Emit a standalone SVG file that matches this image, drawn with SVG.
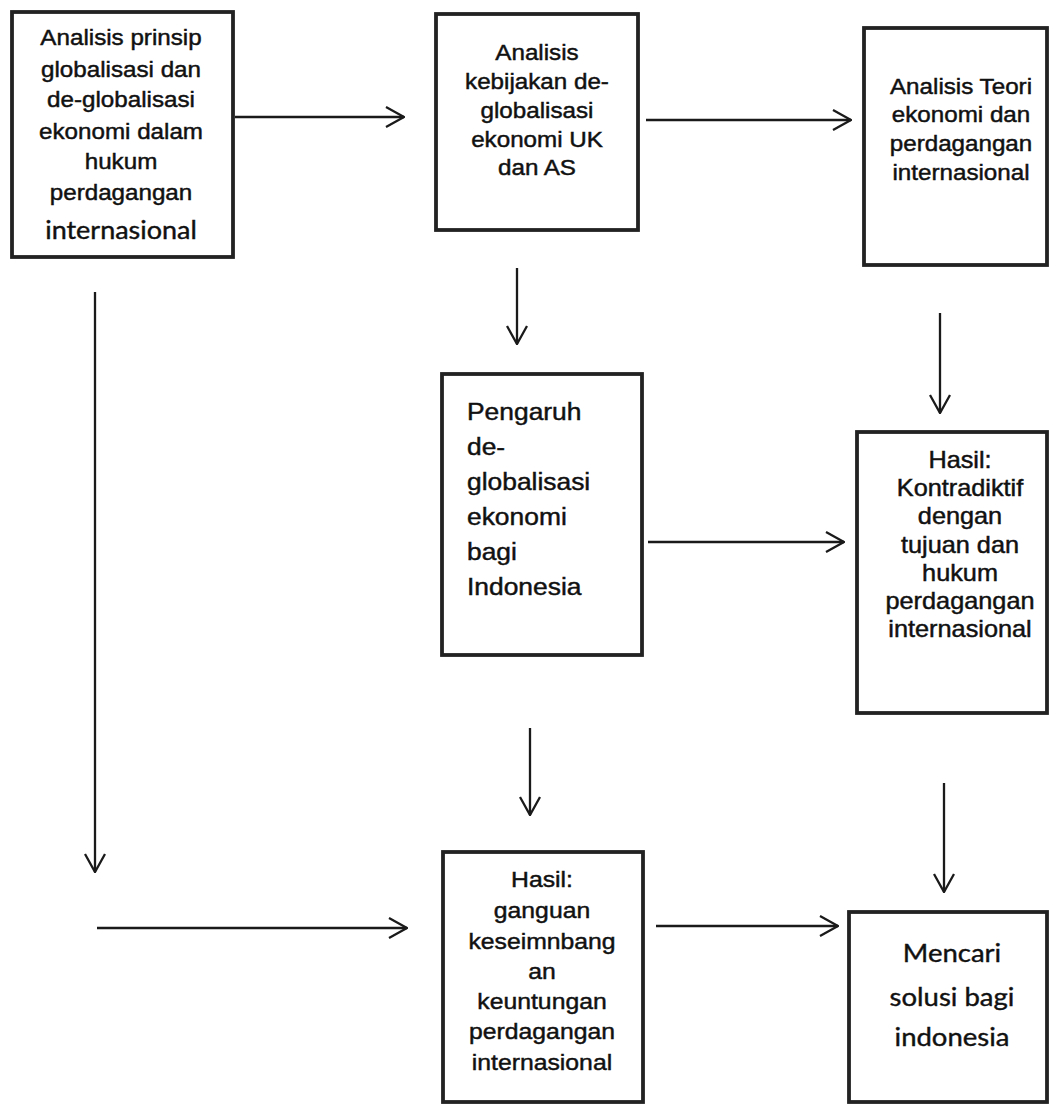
<svg xmlns="http://www.w3.org/2000/svg" width="1049" height="1104" viewBox="0 0 1049 1104">
<style>
.box{fill:#fff;stroke:#222;stroke-width:3.8}
.t{font-family:"Liberation Sans",Arial,sans-serif;fill:#111;stroke:#111;stroke-width:0.45;text-anchor:middle}
.c{font-family:Lato,"Open Sans",sans-serif;fill:#111;stroke:#111;stroke-width:0.4;text-anchor:middle}
.l{text-anchor:start}
.cn path{fill:none;stroke:#1a1a1a;stroke-width:2.3}
</style>
<defs>
<marker id="ah" viewBox="0 0 20 22" refX="19" refY="11" markerWidth="20" markerHeight="22" markerUnits="userSpaceOnUse" orient="auto">
<path d="M1,1 L19,11 L1,21" fill="none" stroke="#1a1a1a" stroke-width="2.3"/>
</marker>
</defs>
<rect width="1049" height="1104" fill="#fff"/>
<g id="connectors" class="cn">
<path d="M235,117 H404" marker-end="url(#ah)"/>
<path d="M646,120 H851" marker-end="url(#ah)"/>
<path d="M517,268 V344" marker-end="url(#ah)"/>
<path d="M940,313 V413" marker-end="url(#ah)"/>
<path d="M648,542 H844" marker-end="url(#ah)"/>
<path d="M530,728 V815" marker-end="url(#ah)"/>
<path d="M944,783 V892" marker-end="url(#ah)"/>
<path d="M95,292 V872" marker-end="url(#ah)"/>
<path d="M97,928 H407" marker-end="url(#ah)"/>
<path d="M656,926 H838" marker-end="url(#ah)"/>
</g>
<g id="n1">
<rect class="box" x="12" y="12" width="221" height="245"/>
<g transform="translate(121,0) scale(1.1,1)">
<text class="t" font-size="22"><tspan x="0" y="45">Analisis prinsip</tspan><tspan x="0" y="77">globalisasi  dan</tspan><tspan x="0" y="107">de-globalisasi</tspan><tspan x="0" y="139">ekonomi dalam</tspan><tspan x="0" y="169">hukum</tspan><tspan x="0" y="200">perdagangan</tspan></text>
<text class="c" font-size="24.5" x="0" y="239">internasional</text>
</g>
</g>
<g id="n2">
<rect class="box" x="436" y="14" width="202" height="216"/>
<g transform="translate(537,0) scale(1.1,1)">
<text class="t" font-size="22"><tspan x="0" y="60">Analisis</tspan><tspan x="0" y="89">kebijakan de-</tspan><tspan x="0" y="118">globalisasi</tspan><tspan x="0" y="147">ekonomi UK</tspan><tspan x="0" y="175">dan AS</tspan></text>
</g>
</g>
<g id="n3">
<rect class="box" x="864" y="28" width="183" height="237"/>
<g transform="translate(961,0) scale(1.1,1)">
<text class="t" font-size="22"><tspan x="0" y="94">Analisis Teori</tspan><tspan x="0" y="122">ekonomi dan</tspan><tspan x="0" y="151">perdagangan</tspan><tspan x="0" y="180">internasional</tspan></text>
</g>
</g>
<g id="n4">
<rect class="box" x="442" y="374" width="200" height="281"/>
<g transform="translate(467,0) scale(1.1,1)">
<text class="t l" font-size="24"><tspan x="0" y="420">Pengaruh</tspan><tspan x="0" y="455">de-</tspan><tspan x="0" y="490">globalisasi</tspan><tspan x="0" y="525">ekonomi</tspan><tspan x="0" y="560">bagi</tspan><tspan x="0" y="595">Indonesia</tspan></text>
</g>
</g>
<g id="n5">
<rect class="box" x="857" y="432" width="190" height="281"/>
<g transform="translate(960,0) scale(1.1,1)">
<text class="t" font-size="23"><tspan x="0" y="468">Hasil:</tspan><tspan x="0" y="496">Kontradiktif</tspan><tspan x="0" y="524">dengan</tspan><tspan x="0" y="553">tujuan dan</tspan><tspan x="0" y="581">hukum</tspan><tspan x="0" y="609">perdagangan</tspan><tspan x="0" y="637">internasional</tspan></text>
</g>
</g>
<g id="n6">
<rect class="box" x="443" y="852" width="200" height="250"/>
<g transform="translate(542,0) scale(1.1,1)">
<text class="t" font-size="22.5"><tspan x="0" y="887">Hasil:</tspan><tspan x="0" y="918">ganguan</tspan><tspan x="0" y="949">keseimnbang</tspan><tspan x="0" y="979">an</tspan><tspan x="0" y="1009">keuntungan</tspan><tspan x="0" y="1039">perdagangan</tspan><tspan x="0" y="1070">internasional</tspan></text>
</g>
</g>
<g id="n7">
<rect class="box" x="849" y="912" width="198" height="190"/>
<g transform="translate(952,0) scale(1.1,1)">
<text class="c" font-size="25"><tspan x="0" y="962">Mencari</tspan><tspan x="0" y="1006">solusi bagi</tspan><tspan x="0" y="1046">indonesia</tspan></text>
</g>
</g>
</svg>
